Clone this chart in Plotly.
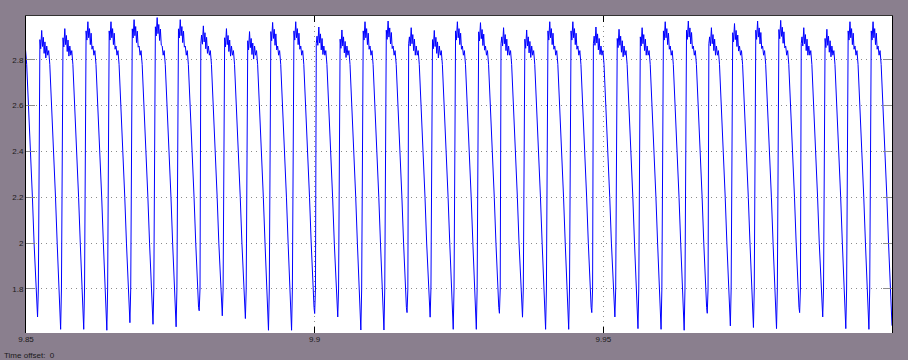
import plotly.graph_objects as go

# ---- values ----
period_s = 0.004          # one cycle = 0.004 s (about 23.2 px)
first_trough_s = 9.848    # trough of the (partly hidden) cycle before the window

# per-cycle extremes (cycle -1 is hidden left of the window; values read per cycle)
peak_values = [2.95,
               2.928, 2.936, 2.966, 2.966, 2.975, 2.984, 2.975, 2.948, 2.936, 2.923, 2.963, 2.966,
               2.943, 2.930, 2.966, 2.969, 2.940, 2.928, 2.966, 2.962, 2.940, 2.930, 2.966, 2.966, 2.943,
               2.933, 2.940, 2.966, 2.969, 2.940, 2.958, 2.969, 2.972, 2.940, 2.933, 2.966, 2.966]
trough_values = [1.65,
                 1.678, 1.624, 1.624, 1.620, 1.653, 1.646, 1.635, 1.705, 1.683, 1.671, 1.620, 1.620, 1.693,
                 1.678, 1.621, 1.621, 1.697, 1.677, 1.624, 1.624, 1.694, 1.677, 1.624, 1.624, 1.697,
                 1.678, 1.627, 1.624, 1.620, 1.694, 1.639, 1.632, 1.627, 1.697, 1.678, 1.627, 1.624,
                 1.64]

# shape of one cycle after its trough (times in ms after the trough)
rise_ms = [0.14, 0.28]
rise_levels = [1.80, 2.87]
plateau_ms = [0.41, 0.55, 0.72, 0.86, 1.00, 1.14, 1.28, 1.43]
plateau_drop = [0.04, 0.08, 0.0, 0.07, 0.03, 0.10, 0.05, 0.12]
fall_ms = [1.59, 1.76, 1.93, 2.12, 2.45, 2.80, 3.11, 3.40, 3.70, 3.89]
fall_levels = [2.86, 2.82, 2.84, 2.78, 2.60, 2.40, 2.20, 2.00, 1.80, 1.72]

x_tick_vals = [9.85, 9.9, 9.95]
x_tick_text = ["9.85", "9.9", "9.95"]
y_tick_vals = [1.8, 2.0, 2.2, 2.4, 2.6, 2.8]
y_tick_text = ["1.8", "2", "2.2", "2.4", "2.6", "2.8"]

# ---- assemble the trace from the read values ----
t, v = [], []
for k, pk in enumerate(peak_values):
    t0 = first_trough_s + k * period_s
    t.append(t0); v.append(trough_values[k])
    for dt, lv in zip(rise_ms, rise_levels):
        t.append(t0 + dt / 1000); v.append(lv)
    for dt, dr in zip(plateau_ms, plateau_drop):
        t.append(t0 + dt / 1000); v.append(pk - dr)
    for dt, lv in zip(fall_ms, fall_levels):
        t.append(t0 + dt / 1000); v.append(lv)
t.append(first_trough_s + len(peak_values) * period_s); v.append(trough_values[-1])

fig = go.Figure()
fig.add_trace(go.Scatter(x=t, y=v, mode="lines",
                         line=dict(color="#0000ff", width=1), hoverinfo="skip"))

font = dict(family="Liberation Sans, Arial, sans-serif", size=8, color="#1a1a1a")
grid = dict(showgrid=True, gridcolor="#8c8c8c", griddash="1px,4px", gridwidth=1)
fig.update_layout(
    width=908, height=360,
    margin=dict(l=24, r=16, t=16, b=27),
    paper_bgcolor="#8a7f8e", plot_bgcolor="#ffffff",
    showlegend=False, font=font,
    xaxis=dict(range=[9.85, 10.0], tickvals=x_tick_vals, ticktext=x_tick_text,
               ticks="inside", ticklen=6, tickcolor="#000000",
               showline=False, zeroline=False, tickfont=font, **grid),
    xaxis2=dict(range=[9.85, 10.0], tickvals=x_tick_vals, overlaying="x", side="top",
                ticks="inside", ticklen=6, tickcolor="#000000", showticklabels=False,
                showline=True, linecolor="#333333", linewidth=1,
                showgrid=False, zeroline=False),
    yaxis=dict(range=[1.608, 2.991], tickvals=y_tick_vals, ticktext=y_tick_text,
               ticks="inside", ticklen=9, tickcolor="#8c8c8c",
               showline=True, linecolor="#000000", linewidth=1, mirror="ticks",
               zeroline=False, tickfont=font, **grid),
    annotations=[dict(text="Time offset:&nbsp;&nbsp;0", xref="paper", yref="paper",
                      x=-0.0276, y=-0.07, xanchor="left", yanchor="middle",
                      showarrow=False, font=font)],
)
# invisible helper so the top axis (ticks only) is drawn
fig.add_trace(go.Scatter(x=[9.85], y=[None], xaxis="x2", mode="lines",
                         hoverinfo="skip", showlegend=False))

fig.write_html("out.html")
